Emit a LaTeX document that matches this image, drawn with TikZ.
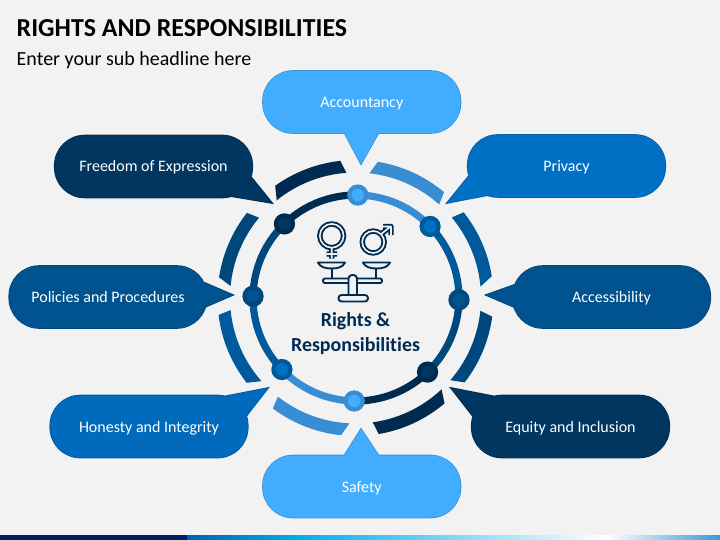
\documentclass[tikz,border=0pt]{standalone}
\usepackage{fontspec}
\setmainfont{Carlito}[Ligatures=NoCommon]
\usetikzlibrary{calc}

\definecolor{paper}{HTML}{F2F2F2}
\definecolor{skyblue}{HTML}{42ADFF}
\definecolor{lightblue}{HTML}{388DD3}
\definecolor{midblue}{HTML}{0070C4}
\definecolor{honestblue}{HTML}{006ABD}
\definecolor{steelblue}{HTML}{00599B}
\definecolor{seablue}{HTML}{00538E}
\definecolor{deepblue}{HTML}{00477C}
\definecolor{navyblue}{HTML}{00365F}
\definecolor{inkblue}{HTML}{002B51}
\definecolor{stripdark}{HTML}{002060}
\definecolor{stripblue}{HTML}{0060B0}
\definecolor{stripcyan}{HTML}{00AEEF}
\definecolor{stripend}{HTML}{3A9AD9}

\newcommand{\cenX}{355.5}
\newcommand{\cenY}{298}
\newcommand{\ringR}{103pt}
\newcommand{\bandIn}{125.5pt}
\newcommand{\bandOut}{138pt}

\tikzset{
  label/.style={text=white,anchor=base,inner sep=0pt,font=\fontsize{16}{19}\selectfont},
  ringline/.style={line width=7.2pt},
  iconline/.style={draw=inkblue,line width=1.9pt,fill=paper,line join=round},
  icondouble/.style={draw=inkblue,line width=1.9pt,double=paper,double distance=1.6pt,line join=round}
}

% name, centre, width, tip, base, base, colour, shadow angle, text
\newcommand{\callout}[9]{
  \coordinate (#1Cen) at (#2);
  \coordinate (#1Tip) at (#4);
  \foreach \s in {1,1.8,2.6} {
    \fill[black,opacity=0.1,shift={(#8:\s)},rounded corners=30pt]
      ($(#1Cen)+(-#3/2,-31)$) rectangle ($(#1Cen)+(#3/2,31)$);
    \fill[black,opacity=0.1,shift={(#8:\s)}] (#1Tip) -- (#5) -- (#1Cen) -- (#6) -- cycle;
  }
  \draw[#7!85!black,line width=1.6pt,rounded corners=30pt]
    ($(#1Cen)+(-#3/2,-31)$) rectangle ($(#1Cen)+(#3/2,31)$);
  \draw[#7!85!black,line width=1.6pt,line join=miter] (#1Tip) -- (#5) -- (#1Cen) -- (#6) -- cycle;
  \fill[#7,rounded corners=30pt]
    ($(#1Cen)+(-#3/2,-31)$) rectangle ($(#1Cen)+(#3/2,31)$);
  \fill[#7] (#1Tip) -- (#5) -- (#1Cen) -- (#6) -- cycle;
  \node[label] (#1) at ($(#1Cen)+(0,5.5)$) {#9};
}

% colour, outer start, outer end, inner end, inner start
\newcommand{\band}[5]{
  \fill[#1] (#2:\bandOut) arc[start angle=#2,end angle=#3,radius=\bandOut]
    -- (#4:\bandIn) arc[start angle=#4,end angle=#5,radius=\bandIn] -- cycle;
}

\begin{document}
\begin{tikzpicture}[x=1pt,y=-1pt]
    \useasboundingbox (0,0) rectangle (720,540);
    \fill[paper] (0,0) rectangle (720,540);

    % Title lines
    \node[anchor=west,inner sep=0pt,text=black,font=\fontsize{25.9}{30}\selectfont\bfseries] (title) at (16.5,28.5) {RIGHTS AND RESPONSIBILITIES};
    \node[anchor=west,inner sep=0pt,text=black,font=\fontsize{20}{24}\selectfont] (subtitle) at (16.5,60.5) {Enter your sub headline here};

    % Bottom strip
    \fill[left color=stripblue,right color=stripcyan] (187,535) rectangle (298,540);
    \fill[left color=stripcyan,right color=white] (298,535) rectangle (606,540);
    \fill[left color=white,right color=stripend] (606,535) rectangle (720,540);
    \fill[stripdark] (0,535) rectangle (187,540);

    % Outer broken ring
    \begin{scope}[shift={(\cenX,\cenY)}]
        \band{inkblue}{125.6}{96.3}{94.2}{128.9}
        \band{lightblue}{80.7}{50.1}{48.2}{83.6}
        \band{steelblue}{38.4}{9.1}{5.2}{39.9}
        \band{deepblue}{-7.8}{-37.7}{-40.9}{-5.8}
        \band{inkblue}{-49.8}{-80.3}{-82.1}{-46.7}
        \band{lightblue}{264}{233.2}{231.8}{267.2}
        \band{steelblue}{217.9}{187.1}{185.5}{221.5}
        \band{deepblue}{171.4}{141.9}{140.2}{174.5}
    \end{scope}

    % Inner ring
    \begin{scope}[shift={(356,298)}]
        \foreach \ang/\name in {89/Top,44/TopR,-1/Right,-46/BotR,-91/Bot,-136/BotL,-181/Left,-226/TopL} {
            \coordinate (ring\name) at (\ang:\ringR);
        }
        \draw[ringline,inkblue] (ringTopL) arc[start angle=134,end angle=89,radius=\ringR];
        \draw[ringline,lightblue] (ringTop) arc[start angle=89,end angle=44,radius=\ringR];
        \draw[ringline,steelblue] (ringTopR) arc[start angle=44,end angle=-1,radius=\ringR];
        \draw[ringline,deepblue] (ringRight) arc[start angle=-1,end angle=-46,radius=\ringR];
        \draw[ringline,inkblue] (ringBotR) arc[start angle=-46,end angle=-91,radius=\ringR];
        \draw[ringline,lightblue] (ringBot) arc[start angle=-91,end angle=-136,radius=\ringR];
        \draw[ringline,steelblue] (ringBotL) arc[start angle=-136,end angle=-181,radius=\ringR];
        \draw[ringline,deepblue] (ringLeft) arc[start angle=-181,end angle=-226,radius=\ringR];
    \end{scope}

    % Dots on the ring
    \foreach \name/\col/\edge in {Top/skyblue/lightblue,TopR/midblue/steelblue,Right/seablue/deepblue,BotR/navyblue/inkblue,Bot/skyblue/lightblue,BotL/midblue/steelblue,Left/seablue/deepblue,TopL/navyblue/inkblue} {
        \node[circle,fill=\col,draw=\edge,line width=4.2pt,minimum size=17pt,inner sep=0pt] (dot\name) at (ring\name) {};
    }

    % Callouts
    \callout{accountancy}{361.75,102}{197.5}{361,164}{344,132}{379,132}{skyblue}{305}{Accountancy}
    \callout{privacy}{566.5,166}{197.5}{447,203}{468,177}{488,195}{midblue}{20}{Privacy}
    \callout{accessibility}{611.5,297}{197.5}{486,295}{514,285}{514,307}{seablue}{-20}{Accessibility}
    \callout{equity}{570.5,426.5}{197.5}{451,388}{472,415}{492,396}{navyblue}{30}{Equity and Inclusion}
    \callout{safety}{361.75,486.5}{197.5}{361,429}{344,456}{379,456}{skyblue}{60}{Safety}
    \callout{honesty}{149,426.5}{197.5}{268,388}{247,415}{227,396}{honestblue}{160}{Honesty and Integrity}
    \callout{policies}{108,297}{197.5}{233,295}{205,283}{205,307}{seablue}{210}{Policies and Procedures}
    \callout{freedom}{153.5,166.5}{197.5}{272,203}{251,177}{230,196}{navyblue}{215}{Freedom of Expression}

    % Gender signs
    \draw[icondouble] (331.7,235.8) circle (11.9) (331.7,247.7) -- (331.7,258.5) (326.5,254) -- (337,254);
    \draw[icondouble] (373.2,242) circle (11) (381,234.2) -- (390.5,226.5) (383,226.5) -- (391,226.5) -- (391,235);

    % Scale
    \draw[iconline] (331.7,268) -- (331.7,280) (376,268) -- (376,280);
    \draw[iconline] (318,262.5) -- (345,262.5) .. controls (343,267) and (338,268.5) .. (331.5,268.5) .. controls (325,268.5) and (320,267) .. (318,262.5) -- cycle;
    \draw[iconline] (363,262.5) -- (390,262.5) .. controls (388,267) and (383,268.5) .. (376.5,268.5) .. controls (370,268.5) and (365,267) .. (363,262.5) -- cycle;
    \draw[iconline,rounded corners=2pt] (323,278.5) rectangle (382,283);
    \draw[iconline,rounded corners=3.5pt] (348.5,296) -- (348.5,275) -- (357,275) -- (357,296);
    \draw[iconline,rounded corners=3pt] (338.5,295) rectangle (368,301.5);

    % Centre text
    \node[align=center,text=inkblue,inner sep=0pt,font=\fontsize{19.9}{25}\selectfont\bfseries] (centre) at (355.5,333.5) {Rights \&\\Responsibilities};
\end{tikzpicture}
\end{document}
